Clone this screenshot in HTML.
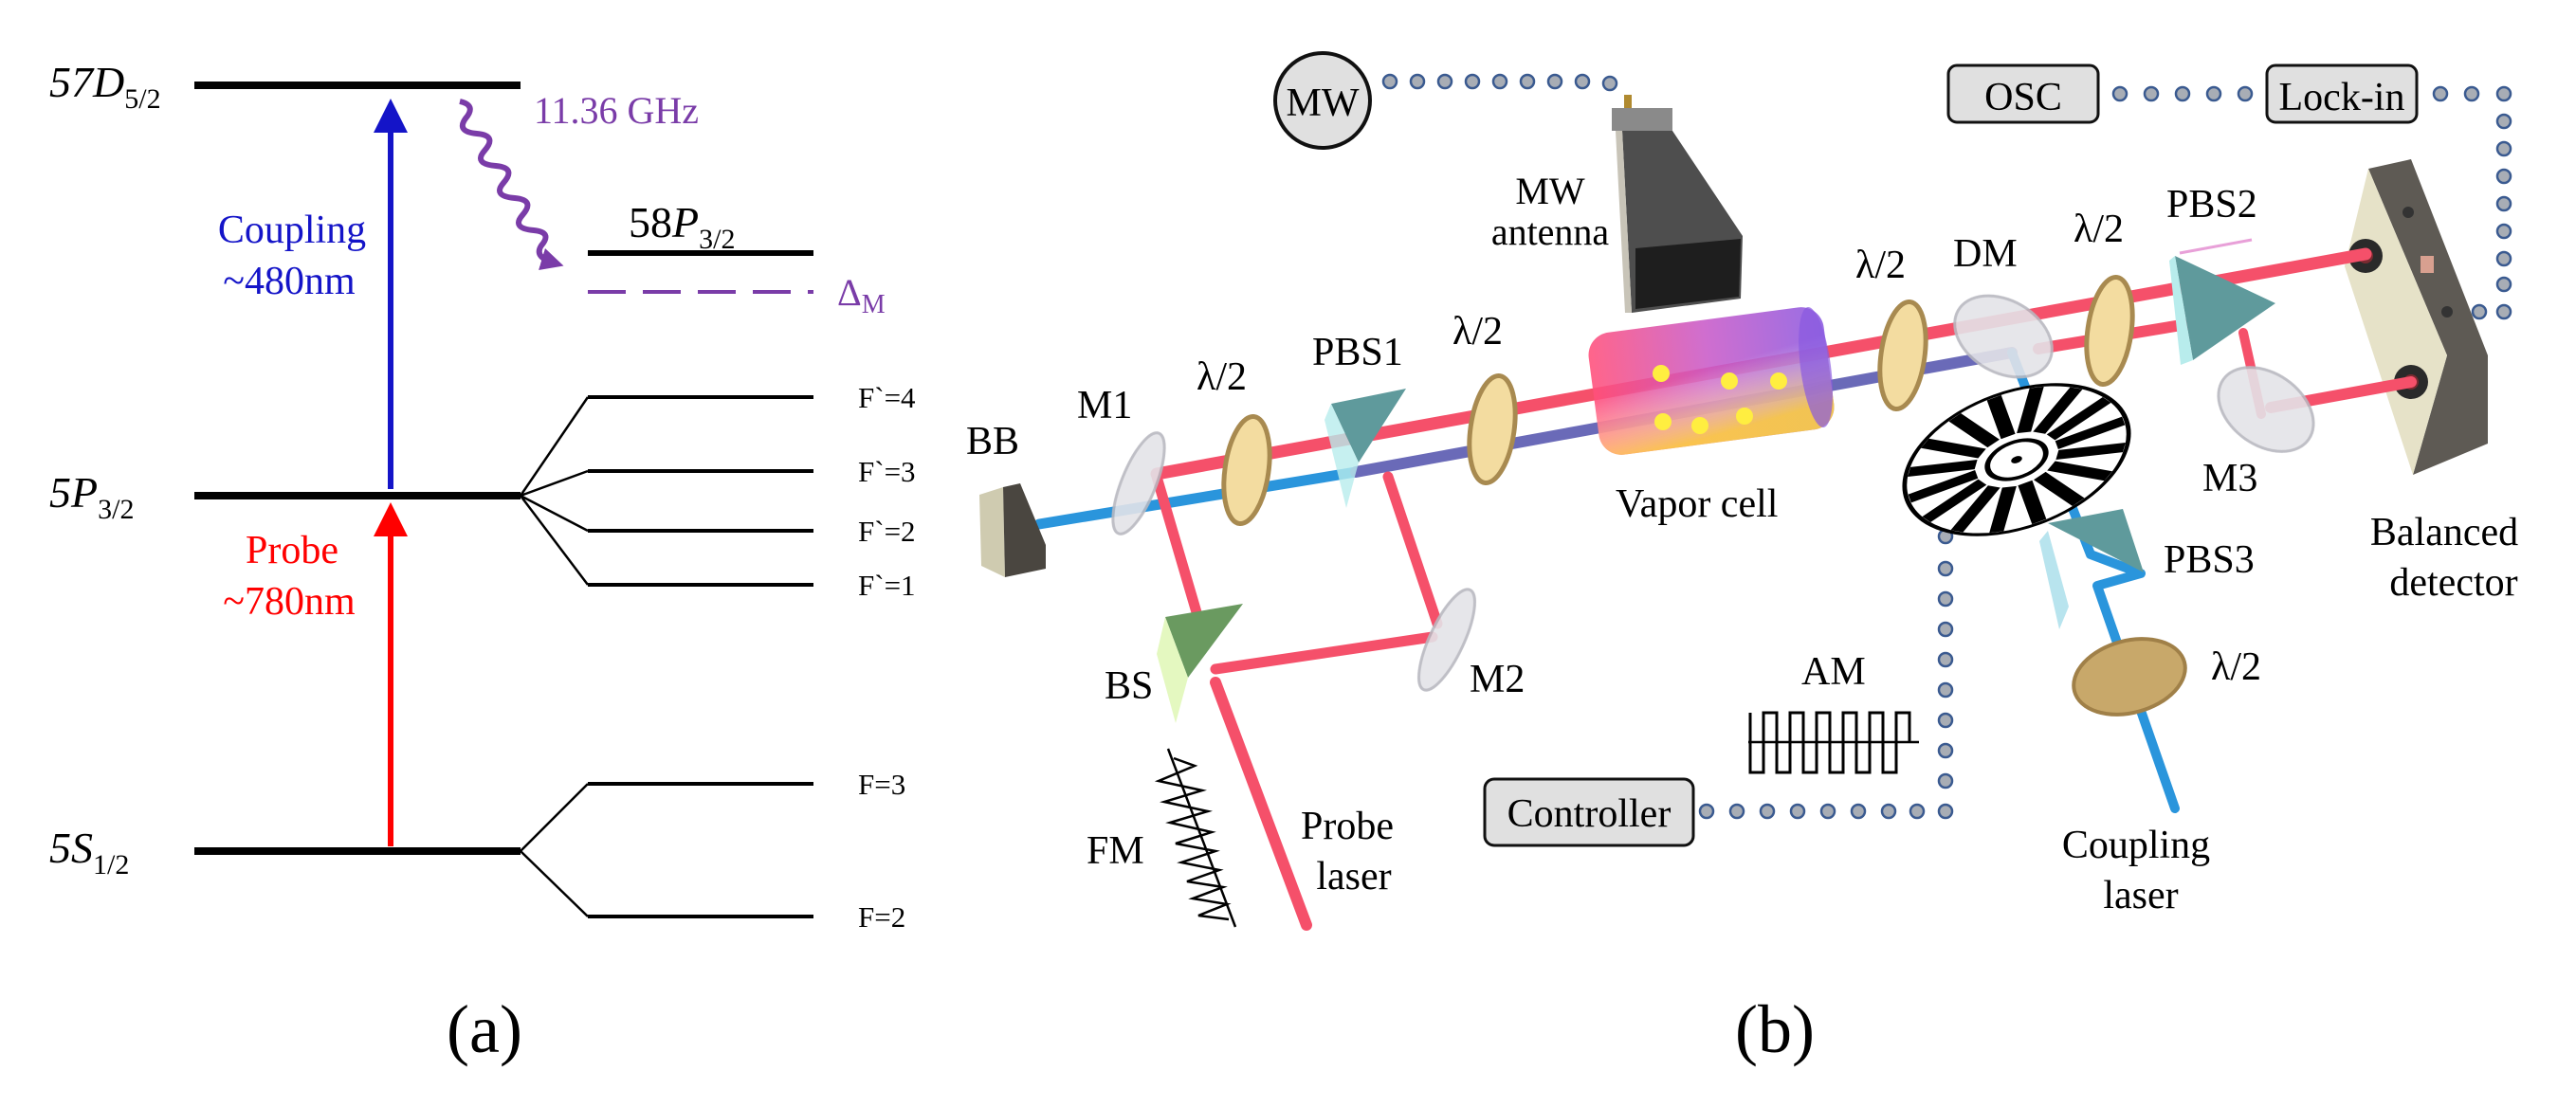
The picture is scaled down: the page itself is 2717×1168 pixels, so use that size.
<!DOCTYPE html>
<html><head><meta charset="utf-8"><style>
html,body{margin:0;padding:0;background:#fff}
svg{display:block}
svg text{font-family:"Liberation Serif","Times New Roman","DejaVu Serif",serif}
</style></head><body>
<svg width="2717" height="1168" viewBox="0 0 2717 1168" xmlns="http://www.w3.org/2000/svg" font-family="'Liberation Serif','DejaVu Serif',serif">
<defs>
<marker id="ab" markerWidth="6" markerHeight="6" refX="3" refY="3" orient="auto" markerUnits="strokeWidth"><path d="M0,0 L6,3 L0,6z" fill="#1414c8"/></marker>
<marker id="ar" markerWidth="6" markerHeight="6" refX="3" refY="3" orient="auto" markerUnits="strokeWidth"><path d="M0,0 L6,3 L0,6z" fill="#ff0000"/></marker>
<marker id="ap" markerWidth="4" markerHeight="4" refX="2" refY="2" orient="auto" markerUnits="strokeWidth"><path d="M0,0 L4,2 L0,4z" fill="#7a3ca8"/></marker>
<linearGradient id="cell" x1="0" y1="0" x2="1" y2="0">
<stop offset="0" stop-color="#ff4f7a"/><stop offset="0.5" stop-color="#c85ac8"/><stop offset="1" stop-color="#8a5ae0"/></linearGradient>
<linearGradient id="cellb" x1="0" y1="0" x2="0.3" y2="1">
<stop offset="0.5" stop-color="#ffffff" stop-opacity="0"/><stop offset="1" stop-color="#ffd23a" stop-opacity="0.85"/></linearGradient>
</defs>

<!-- Panel (a) -->
<g stroke="#000" fill="none">
<line x1="205" y1="90" x2="549" y2="90" stroke-width="8"/>
<line x1="205" y1="523" x2="549" y2="523" stroke-width="8"/>
<line x1="205" y1="898" x2="549" y2="898" stroke-width="8"/>
<line x1="620" y1="267" x2="858" y2="267" stroke-width="6"/>
<g stroke-width="4">
<line x1="620" y1="419" x2="858" y2="419"/>
<line x1="620" y1="497" x2="858" y2="497"/>
<line x1="620" y1="560" x2="858" y2="560"/>
<line x1="620" y1="617" x2="858" y2="617"/>
<line x1="620" y1="827" x2="858" y2="827"/>
<line x1="620" y1="967" x2="858" y2="967"/>
</g>
<g stroke-width="2.5">
<path d="M549 523 L620 419 M549 523 L620 497 M549 523 L620 560 M549 523 L620 617"/>
<path d="M549 898 L620 827 M549 898 L620 967"/>
</g>
</g>
<line x1="412" y1="516" x2="412" y2="122" stroke="#1414c8" stroke-width="6" marker-end="url(#ab)"/>
<line x1="412" y1="893" x2="412" y2="548" stroke="#ff0000" stroke-width="6" marker-end="url(#ar)"/>
<path d="M485 107 q18 4 6 18 q-10 14 12 16 q22 2 8 18 q-12 14 12 16 q22 2 8 18 q-12 14 12 16 q22 2 8 18 q-12 14 12 16 q20 2 8 16 q-8 12 12 18" stroke="#7a3ca8" stroke-width="6" fill="none" marker-end="url(#ap)"/>
<line x1="620" y1="308" x2="858" y2="308" stroke="#7a3ca8" stroke-width="4" stroke-dasharray="40,18"/>
<g font-size="46">
<text x="52" y="102" font-style="italic">57D<tspan font-size="30" font-style="normal" dy="12">5/2</tspan></text>
<text x="52" y="535" font-style="italic">5P<tspan font-size="30" font-style="normal" dy="12">3/2</tspan></text>
<text x="52" y="910" font-style="italic">5S<tspan font-size="30" font-style="normal" dy="12">1/2</tspan></text>
<text x="663" y="250">58<tspan font-style="italic">P</tspan><tspan font-size="30" dy="12">3/2</tspan></text>
</g>
<text x="563" y="130" font-size="40" fill="#7a3ca8">11.36 GHz</text>
<text x="883" y="322" font-size="40" fill="#7a3ca8">Δ<tspan font-size="28" dy="8">M</tspan></text>
<g font-size="42" fill="#1414c8" text-anchor="middle"><text x="308" y="256">Coupling</text><text x="305" y="310">~480nm</text></g>
<g font-size="42" fill="#ff0000" text-anchor="middle"><text x="308" y="594">Probe</text><text x="305" y="648">~780nm</text></g>
<g font-size="31">
<text x="905" y="430">F`=4</text><text x="905" y="508">F`=3</text><text x="905" y="571">F`=2</text><text x="905" y="628">F`=1</text>
<text x="905" y="838">F=3</text><text x="905" y="978">F=2</text>
</g>
<text x="511" y="1110" font-size="72" text-anchor="middle">(a)</text>

<!-- Panel (b) dotted connectors -->
<g fill="#a8adb5" stroke="#3a5a90" stroke-width="2.5">
<circle cx="1466" cy="86" r="7"/><circle cx="1495" cy="86" r="7"/><circle cx="1524" cy="86" r="7"/><circle cx="1553" cy="86" r="7"/><circle cx="1582" cy="86" r="7"/><circle cx="1611" cy="86" r="7"/><circle cx="1640" cy="86" r="7"/><circle cx="1669" cy="86" r="7"/><circle cx="1698" cy="88" r="7"/>
<circle cx="2236" cy="99" r="7"/><circle cx="2269" cy="99" r="7"/><circle cx="2302" cy="99" r="7"/><circle cx="2335" cy="99" r="7"/><circle cx="2368" cy="99" r="7"/>
<circle cx="2574" cy="99" r="7"/><circle cx="2607" cy="99" r="7"/><circle cx="2641" cy="99" r="7"/>
<circle cx="2641" cy="128" r="7"/><circle cx="2641" cy="157" r="7"/><circle cx="2641" cy="186" r="7"/><circle cx="2641" cy="215" r="7"/><circle cx="2641" cy="244" r="7"/><circle cx="2641" cy="273" r="7"/><circle cx="2641" cy="300" r="7"/><circle cx="2641" cy="329" r="7"/><circle cx="2615" cy="329" r="7"/>
<circle cx="1800" cy="856" r="7"/><circle cx="1832" cy="856" r="7"/><circle cx="1864" cy="856" r="7"/><circle cx="1896" cy="856" r="7"/><circle cx="1928" cy="856" r="7"/><circle cx="1960" cy="856" r="7"/><circle cx="1992" cy="856" r="7"/><circle cx="2022" cy="856" r="7"/><circle cx="2052" cy="856" r="7"/>
<circle cx="2052" cy="824" r="7"/><circle cx="2052" cy="792" r="7"/><circle cx="2052" cy="760" r="7"/><circle cx="2052" cy="728" r="7"/><circle cx="2052" cy="696" r="7"/><circle cx="2052" cy="664" r="7"/><circle cx="2052" cy="632" r="7"/><circle cx="2052" cy="600" r="7"/><circle cx="2052" cy="566" r="7"/>
</g>

<!-- MW circle & boxes -->
<circle cx="1395" cy="106" r="50" fill="#e0e0e0" stroke="#111" stroke-width="4"/>
<text x="1395" y="122" font-size="42" text-anchor="middle">MW</text>
<rect x="2055" y="69" width="158" height="60" rx="9" fill="#e0e0e0" stroke="#111" stroke-width="3"/>
<text x="2134" y="116" font-size="42" text-anchor="middle">OSC</text>
<rect x="2391" y="69" width="158" height="60" rx="9" fill="#e0e0e0" stroke="#111" stroke-width="3"/>
<text x="2470" y="116" font-size="42" text-anchor="middle">Lock-in</text>
<rect x="1566" y="822" width="220" height="70" rx="10" fill="#e0e0e0" stroke="#111" stroke-width="3"/>
<text x="1676" y="872" font-size="42" text-anchor="middle">Controller</text>

<!-- antenna -->
<rect x="1713" y="100" width="8" height="14" fill="#b08a30"/>
<polygon points="1700,114 1764,114 1764,138 1700,138" fill="#8a8a8a"/>
<polygon points="1711,138 1764,138 1838,249 1836,315 1721,330" fill="#4e4e4e"/>
<polygon points="1704,138 1711,138 1721,330 1714,330" fill="#c8c4b8"/>
<polygon points="1725,262 1836,252 1834,313 1725,326" fill="#1e1e1e"/>

<!-- balanced detector -->
<polygon points="2498,178 2543,168 2624,375 2624,468 2545,501 2581,375" fill="#5e5a54"/>
<polygon points="2498,178 2581,375 2545,501 2473,281" fill="#e6e2c8"/>
<circle cx="2495" cy="270" r="18" fill="#2a2a2a"/><circle cx="2495" cy="270" r="8" fill="#7a2a30"/>
<circle cx="2543" cy="403" r="18" fill="#2a2a2a"/><circle cx="2543" cy="403" r="8" fill="#7a2a30"/>
<rect x="2553" y="270" width="14" height="18" fill="#d8a090"/>
<circle cx="2540" cy="224" r="6" fill="#333"/><circle cx="2581" cy="329" r="6" fill="#333"/>

<!-- beams -->
<g stroke-linecap="round" fill="none">
<line x1="1096" y1="553" x2="1430" y2="498" stroke="#2a95dc" stroke-width="11"/>
<line x1="1430" y1="498" x2="2122" y2="372" stroke="#6a6ab8" stroke-width="12"/>
<polyline points="2122,372 2205,585 2258,605 2212,618 2294,853" stroke="#2a95dc" stroke-width="10" stroke-linejoin="round"/>
<line x1="1378" y1="976" x2="1282" y2="720" stroke="#f5506a" stroke-width="12"/>
<line x1="1262" y1="646" x2="1220" y2="503" stroke="#f5506a" stroke-width="11"/>
<line x1="1282" y1="706" x2="1511" y2="672" stroke="#f5506a" stroke-width="11"/>
<line x1="1516" y1="658" x2="1464" y2="503" stroke="#f5506a" stroke-width="11"/>
<line x1="1220" y1="500" x2="2495" y2="268" stroke="#f5506a" stroke-width="13"/>
<line x1="2150" y1="368" x2="2313" y2="341" stroke="#f5506a" stroke-width="12"/>
<line x1="2366" y1="351" x2="2385" y2="437" stroke="#f5506a" stroke-width="10"/>
<line x1="2395" y1="430" x2="2543" y2="403" stroke="#f5506a" stroke-width="12"/>
</g>
<line x1="2299" y1="267" x2="2375" y2="253" stroke="#e8a0d8" stroke-width="3"/>

<!-- BB block -->
<polygon points="1033,522 1058,514 1060,609 1035,597" fill="#cfcbb0"/>
<polygon points="1058,514 1076,510 1103,575 1103,600 1060,609" fill="#4a4640"/>

<!-- mirrors -->
<g fill="#e4e4e8" stroke="#b8b8c0" stroke-width="3" opacity="0.9">
<ellipse cx="1201" cy="510" rx="18" ry="57" transform="rotate(22 1201 510)"/>
<ellipse cx="1526" cy="675" rx="18" ry="58" transform="rotate(25 1526 675)"/>
<ellipse cx="2113" cy="355" rx="55" ry="38" transform="rotate(30 2113 355)"/>
<ellipse cx="2390" cy="432" rx="55" ry="38" transform="rotate(35 2390 432)"/>
</g>
<!-- wave plates -->
<g fill="#f3dca0" stroke="#a88a50" stroke-width="5">
<ellipse cx="1315" cy="496" rx="23" ry="57" transform="rotate(8 1315 496)"/>
<ellipse cx="1574" cy="453" rx="23" ry="57" transform="rotate(8 1574 453)"/>
<ellipse cx="2007" cy="375" rx="23" ry="57" transform="rotate(8 2007 375)"/>
<ellipse cx="2225" cy="349" rx="23" ry="57" transform="rotate(8 2225 349)"/>
</g>
<ellipse cx="2246" cy="714" rx="60" ry="38" transform="rotate(-15 2246 714)" fill="#c8a86a" stroke="#a08048" stroke-width="4"/>
<!-- prisms -->
<polygon points="1404,426 1483,410 1433,488" fill="#5f9a9c"/>
<polygon points="1397,443 1404,426 1433,488 1420,536" fill="#b8ecec" opacity="0.8"/>
<polygon points="1229,651 1311,637 1253,715" fill="#6a9a60"/>
<polygon points="1229,651 1253,715 1240,763 1220,690" fill="#e4f8c0"/>
<polygon points="2294,270 2400,320 2313,380" fill="#5f9a9c"/>
<polygon points="2288,275 2294,270 2313,380 2300,385" fill="#b8ecec"/>
<polygon points="2160,552 2239,537 2261,604" fill="#5f9a9c"/>
<polygon points="2151,571 2160,560 2182,640 2172,664" fill="#b8e4ee"/>

<!-- vapor cell -->
<g transform="rotate(-7.5 1805 402)">
<rect x="1680" y="337" width="250" height="130" rx="24" fill="url(#cell)" opacity="0.88"/>
<rect x="1680" y="337" width="250" height="130" rx="24" fill="url(#cellb)"/>
<ellipse cx="1916" cy="402" rx="16" ry="64" fill="#8a5ae0" opacity="0.7"/>
</g>
<g fill="#ffee40">
<circle cx="1752" cy="394" r="9"/><circle cx="1824" cy="402" r="9"/><circle cx="1876" cy="402" r="9"/>
<circle cx="1754" cy="445" r="9"/><circle cx="1793" cy="449" r="9"/><circle cx="1840" cy="439" r="9"/>
</g>
<!-- chopper -->
<g transform="translate(2127 485) rotate(-20) scale(1 0.58)">
<circle r="123" fill="#fff" stroke="#000" stroke-width="5"/>
<g stroke="#000" stroke-width="16">
<line x1="0" y1="-120" x2="0" y2="-45"/><line x1="0" y1="120" x2="0" y2="45"/>
<line x1="-120" y1="0" x2="-45" y2="0"/><line x1="120" y1="0" x2="45" y2="0"/>
<line x1="-85" y1="-85" x2="-32" y2="-32"/><line x1="85" y1="85" x2="32" y2="32"/>
<line x1="85" y1="-85" x2="32" y2="-32"/><line x1="-85" y1="85" x2="-32" y2="32"/>
<line x1="-46" y1="-111" x2="-17" y2="-42"/><line x1="46" y1="111" x2="17" y2="42"/>
<line x1="46" y1="-111" x2="17" y2="-42"/><line x1="-46" y1="111" x2="-17" y2="42"/>
<line x1="-111" y1="-46" x2="-42" y2="-17"/><line x1="111" y1="46" x2="42" y2="17"/>
<line x1="111" y1="-46" x2="42" y2="-17"/><line x1="-111" y1="46" x2="-42" y2="17"/>
</g>
<circle r="32" fill="none" stroke="#000" stroke-width="6"/>
<circle r="6" fill="#000"/>
</g>

<!-- AM square wave -->
<polyline points="1846,752 1846,815 1860,815 1860,752 1874,752 1874,815 1888,815 1888,752 1902,752 1902,815 1916,815 1916,752 1930,752 1930,815 1944,815 1944,752 1958,752 1958,815 1972,815 1972,752 1986,752 1986,815 2000,815 2000,752 2014,752 2014,783" fill="none" stroke="#000" stroke-width="3"/>
<line x1="1844" y1="783" x2="2024" y2="783" stroke="#000" stroke-width="2.5"/>
<!-- FM chirp -->
<path d="M1238 800 L1260 808 L1222 824 L1268 834 L1228 846 L1274 856 L1234 868 L1278 878 L1240 890 L1282 898 L1246 910 L1286 918 L1252 930 L1290 936 L1258 948 L1294 954 L1264 966 L1296 970" fill="none" stroke="#000" stroke-width="2.5"/>
<line x1="1232" y1="790" x2="1303" y2="978" stroke="#000" stroke-width="2.5"/>

<!-- labels (b) -->
<g font-size="42">
<text x="1019" y="479">BB</text>
<text x="1136" y="441">M1</text>
<text x="1262" y="411">λ/2</text>
<text x="1384" y="385">PBS1</text>
<text x="1532" y="363">λ/2</text>
<text x="1704" y="545">Vapor cell</text>
<text x="1957" y="293">λ/2</text>
<text x="2060" y="281">DM</text>
<text x="2187" y="255">λ/2</text>
<text x="2285" y="229">PBS2</text>
<text x="2323" y="518">M3</text>
<text x="2282" y="604">PBS3</text>
<text x="2332" y="717">λ/2</text>
<text x="1165" y="737">BS</text>
<text x="1550" y="730">M2</text>
<text x="1146" y="911">FM</text>
<text x="1900" y="722">AM</text>
</g>
<g font-size="40" text-anchor="middle">
<text x="1635" y="215">MW</text><text x="1635" y="258">antenna</text>
</g>
<g font-size="42" text-anchor="middle">
<text x="2578" y="575">Balanced</text><text x="2588" y="628">detector</text>
<text x="1421" y="885">Probe</text><text x="1428" y="938">laser</text>
<text x="2253" y="905">Coupling</text><text x="2258" y="958">laser</text>
</g>
<text x="1872" y="1110" font-size="72" text-anchor="middle">(b)</text>
</svg>
</body></html>
